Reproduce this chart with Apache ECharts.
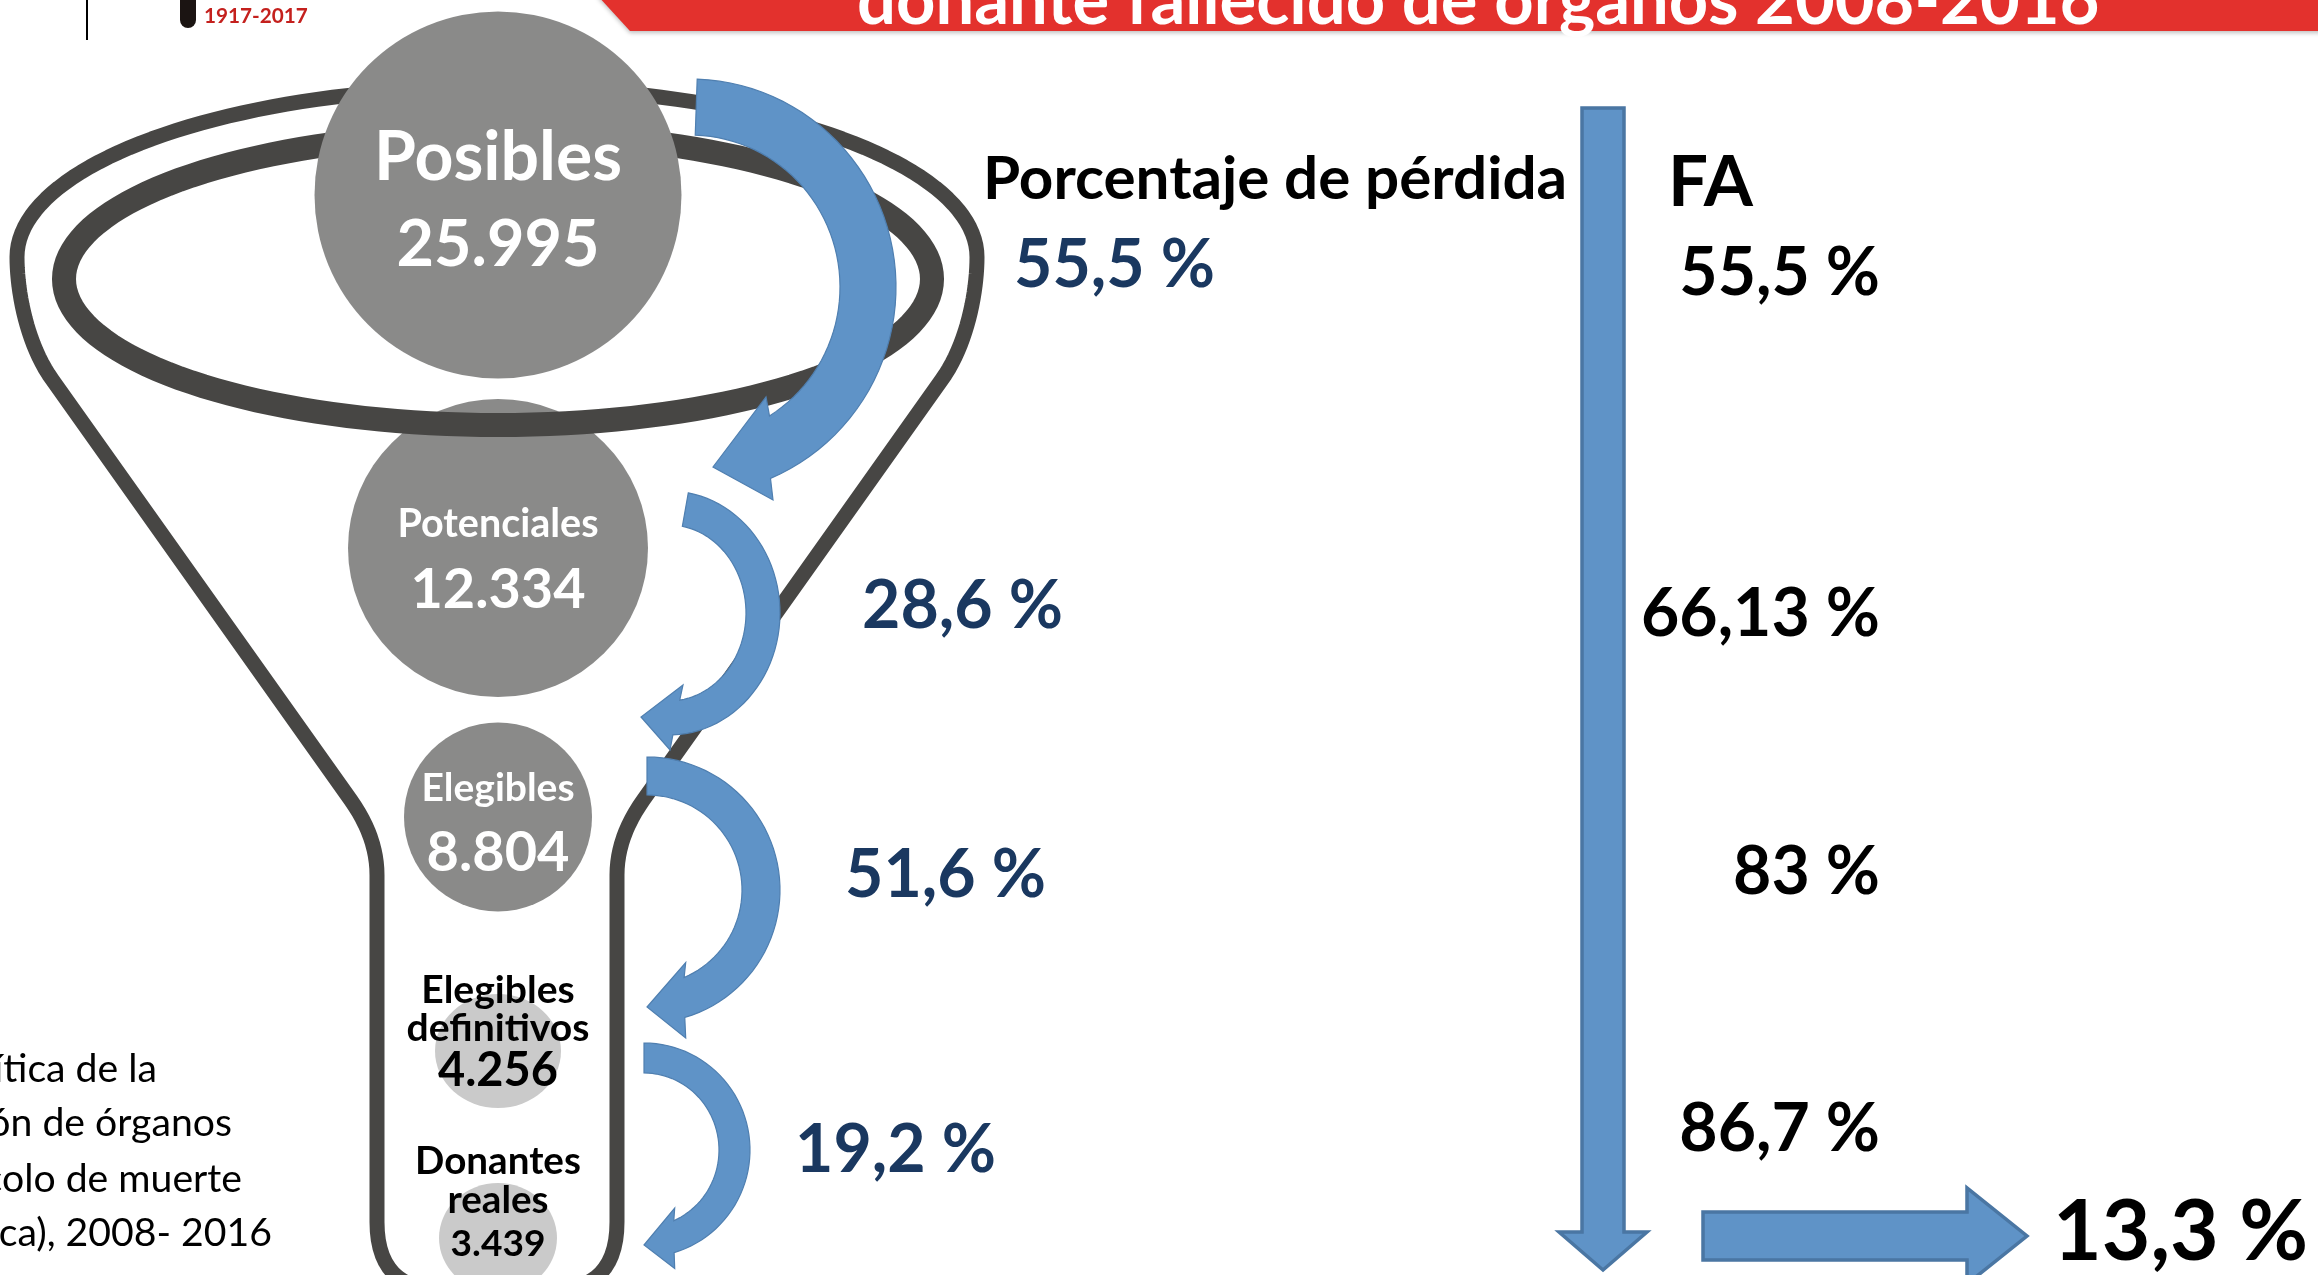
<!DOCTYPE html>
<html>
<head>
<meta charset="utf-8">
<script src="https://cdn.jsdelivr.net/npm/echarts@6/dist/echarts.min.js"></script>
<style>
  html, body { margin: 0; padding: 0; background: #fff; }
  #chart { width: 2318px; height: 1275px; }
</style>
</head>
<body>
<div id="chart"></div>
<script>
/* Cadena de donación: embudo de pérdidas 2008-2016 */

// ---- datos ----
const stageNames = ['Posibles', 'Potenciales', 'Elegibles', 'Elegibles\ndefinitivos', 'Donantes\nreales'];
const stageCounts = [25995, 12334, 8804, 4256, 3439];
const lossPct = [55.5, 28.6, 51.6, 19.2];     // porcentaje de pérdida entre etapas
const faPct = [55.5, 66.13, 83, 86.7];        // FA
const finalPct = 13.3;

// ---- maquetación ----
const W = 2318, H = 1275;
const FONT = 'Lato';
const FX = 498;                                   // eje del embudo
const bubbleY = [195, 548, 817, 1051, 1238];
const bubbleSize = [[367, 367], [300, 298], [188, 189], [126, 114], [118, 110]];
const bubbleColor = ['#8a8a89', '#8a8a89', '#8a8a89', '#cacaca', '#cacaca'];
const stageTextColor = ['#fff', '#fff', '#fff', '#000', '#000'];
const nameY = [[155], [523], [787], [989, 1027], [1160, 1199]];
const nameW = [248, 201, 153, 183, 166];
const countY = [243, 588, 851, 1069, 1243];
const countW = [203, 175, 143, 120, 95];
const lossX = [1014, 862, 845, 795];
const lossY = [263, 604, 873, 1148];
const faRight = 1880;
const faY = [271, 612, 870, 1127];

const cv = document.createElement('canvas').getContext('2d');
function fitSize(text, width, weight) {
  cv.font = (weight || 'bold') + ' 100px ' + FONT;
  return +(100 * width / cv.measureText(text).width).toFixed(1);
}
const fmtInt = n => String(n).replace(/\B(?=(\d{3})+(?!\d))/g, '.');
const fmtPct = v => String(v).replace('.', ',') + ' %';

function textItem(x, y, text, size, color, align) {
  return {
    value: [x, y + 0.04 * size],
    label: {
      show: true, position: 'inside', formatter: text,
      fontSize: size, fontWeight: 'bold', fontFamily: FONT,
      color: color, align: align, verticalAlign: 'middle', opacity: 1
    }
  };
}

// etiquetas de las etapas
const labelItems = [];
stageNames.forEach((name, i) => {
  const lines = name.split('\n');
  const widest = lines.reduce((a, b) => (b.length > a.length ? b : a));
  const fs = fitSize(widest, nameW[i]);
  lines.forEach((ln, j) => labelItems.push(textItem(FX, nameY[i][j], ln, fs, stageTextColor[i], 'center')));
  const num = fmtInt(stageCounts[i]);
  labelItems.push(textItem(FX, countY[i], num, fitSize(num, countW[i]), stageTextColor[i], 'center'));
});

// porcentajes
const pctSize = fitSize(fmtPct(lossPct[0]), 201);
lossPct.forEach((v, i) => labelItems.push(textItem(lossX[i], lossY[i], fmtPct(v), pctSize, '#1a3860', 'left')));
const faSize = fitSize(fmtPct(faPct[1]), 239);
faPct.forEach((v, i) => labelItems.push(textItem(faRight, faY[i], fmtPct(v), faSize, '#000', 'right')));
labelItems.push(textItem(2053, 1230, fmtPct(finalPct), fitSize(fmtPct(finalPct), 255), '#000', 'left'));

// burbujas
const bubbles = stageCounts.map((c, i) => ({
  value: [FX, bubbleY[i], c],
  symbolSize: bubbleSize[i],
  itemStyle: { color: bubbleColor[i], opacity: 1 }
}));

// ---- formas del embudo ----
function quad(p0, p1, p2, n) {
  const out = [];
  for (let i = 0; i <= n; i++) {
    const t = i / n, u = 1 - t;
    out.push([u * u * p0[0] + 2 * u * t * p1[0] + t * t * p2[0], u * u * p0[1] + 2 * u * t * p1[1] + t * t * p2[1]]);
  }
  return out;
}
function cubic(p0, p1, p2, p3, n) {
  const out = [];
  for (let i = 0; i <= n; i++) {
    const t = i / n, u = 1 - t;
    const a = u * u * u, b = 3 * u * u * t, c = 3 * u * t * t, d = t * t * t;
    out.push([a * p0[0] + b * p1[0] + c * p2[0] + d * p3[0], a * p0[1] + b * p1[1] + c * p2[1] + d * p3[1]]);
  }
  return out;
}
function ellipsePts(cx, cy, rx, ry, t0, t1, n) {
  const out = [];
  for (let i = 0; i <= n; i++) {
    const t = (t0 + (t1 - t0) * i / n) * Math.PI / 180;
    out.push([cx + rx * Math.cos(t), cy + ry * Math.sin(t)]);
  }
  return out;
}

const fx = 497;
const hw = y => 125 + 0.71 * (830 - y);   // semiancho de la pared inclinada
const rightSide = [].concat(
  cubic([fx + 480, 257], [fx + 480, 292], [fx + 470, 345], [fx + hw(380), 380], 20),
  quad([fx + hw(800), 800], [fx + 120, 837], [fx + 120, 875], 12),
  quad([fx + 120, 1222], [fx + 120, 1290], [fx + 55, 1290], 14)
);
const leftSide = rightSide.map(p => [2 * fx - p[0], p[1]]).reverse();
const funnelPts = [].concat(ellipsePts(fx, 257, 480, 170, 180, 360, 90), rightSide, leftSide);
const rimPts = ellipsePts(FX, 279, 434, 146, 0, 360, 160);

// flechas curvas
const arrowGeo = [
  { c: [690, 287], ro: [206, 208], ri: [150, 152], a0: -88, ei: 58, eo: 67, bIn: [76, 110], tip: [23, 180], bOut: [83, 213] },
  { c: [669, 613], ro: [111, 122], ri: [77, 88], a0: -80, ei: 82, eo: 88, bIn: [14, 72], tip: [-28, 104], bOut: [1, 137] },
  { c: [647, 890], ro: [133, 133], ri: [95, 95], a0: -90, ei: 67, eo: 73.5, bIn: [38.7, 72.5], tip: [0, 117], bOut: [38.7, 148] },
  { c: [644, 1150], ro: [106, 107], ri: [75, 77], a0: -90, ei: 66.6, eo: 73.5, bIn: [30.7, 58], tip: [0, 95], bOut: [30.7, 118.6] }
];
function curvedArrow(g) {
  const [cx, cy] = g.c;
  const outer = ellipsePts(cx, cy, g.ro[0], g.ro[1], g.a0, g.eo, 50);
  const inner = ellipsePts(cx, cy, g.ri[0], g.ri[1], g.a0, g.ei, 50).reverse();
  const rel = p => [cx + p[0], cy + p[1]];
  return outer.concat([rel(g.bOut), rel(g.tip), rel(g.bIn)], inner);
}

const BLUE = '#5f93c7';
const graphics = [];
graphics.push({ type: 'polygon', z: 2, shape: { points: funnelPts }, style: { fill: 'none', stroke: '#474644', lineWidth: 15, lineJoin: 'round' }, silent: true });
graphics.push({ type: 'polygon', z: 2, shape: { points: rimPts }, style: { fill: 'none', stroke: '#474644', lineWidth: 24 }, silent: true });
arrowGeo.forEach(g => graphics.push({
  type: 'polygon', z: 4, shape: { points: curvedArrow(g) },
  style: { fill: BLUE, stroke: '#4f7fb0', lineWidth: 1.2 }, silent: true
}));
// flecha vertical y flecha final
graphics.push({
  type: 'polygon', z: 4,
  shape: { points: [[1582, 108], [1624, 108], [1624, 1232], [1647, 1232], [1603, 1270], [1559, 1232], [1582, 1232]] },
  style: { fill: BLUE, stroke: '#4a76a3', lineWidth: 3.5 }, silent: true
});
graphics.push({
  type: 'polygon', z: 4,
  shape: { points: [[1703, 1212], [1967, 1212], [1967, 1188], [2027, 1236], [1967, 1284], [1967, 1260], [1703, 1260]] },
  style: { fill: BLUE, stroke: '#4a76a3', lineWidth: 3.5 }, silent: true
});

// cabecera
const titleText = 'donante fallecido de órganos 2008-2016';
const titleSize = fitSize(titleText, 1242);
graphics.push({
  type: 'polygon', z: 5, shape: { points: [[597, -5], [W + 5, -5], [W + 5, 31], [630, 31]] },
  style: { fill: '#e3312d', shadowColor: 'rgba(0,0,0,0.25)', shadowBlur: 4, shadowOffsetY: 2 }, silent: true
});
graphics.push({
  type: 'text', z: 6, x: 857, y: 28 - 0.387 * titleSize,
  style: { text: titleText, fontSize: titleSize, fontWeight: 'bold', fontFamily: FONT, fill: '#fff', align: 'left', verticalAlign: 'middle' }
});
graphics.push({ type: 'line', z: 6, shape: { x1: 87, y1: 0, x2: 87, y2: 40 }, style: { stroke: '#000', lineWidth: 2 } });
graphics.push({ type: 'rect', z: 6, shape: { x: 180, y: -20, width: 16, height: 48, r: [0, 0, 8, 8] }, style: { fill: '#1b1412' } });
const logoSize = fitSize('1917-2017', 104);
graphics.push({
  type: 'text', z: 6, x: 204, y: 15 + 0.04 * logoSize,
  style: { text: '1917-2017', fontSize: logoSize, fontWeight: 'bold', fontFamily: FONT, fill: '#c4201d', align: 'left', verticalAlign: 'middle' }
});

// encabezados de columnas
const headSize = fitSize('Porcentaje de pérdida', 584);
graphics.push({
  type: 'text', z: 6, x: 983, y: 177 + 0.04 * headSize,
  style: { text: 'Porcentaje de pérdida', fontSize: headSize, fontWeight: 'bold', fontFamily: FONT, fill: '#000', align: 'left', verticalAlign: 'middle' }
});
const faHeadSize = fitSize('FA', 85);
graphics.push({
  type: 'text', z: 6, x: 1668, y: 180 + 0.04 * faHeadSize,
  style: { text: 'FA', fontSize: faHeadSize, fontWeight: 'bold', fontFamily: FONT, fill: '#000', align: 'left', verticalAlign: 'middle' }
});

// nota al pie (cortada por el borde izquierdo)
const noteLines = ['crítica de la', 'donación de órganos', '(protocolo de muerte', 'encefálica), 2008- 2016'];
const noteRight = [157, 232, 242, 272];
const noteBase = [1085, 1139, 1195, 1249];
const noteSize = fitSize('olo de muerte', 240, 'normal');
noteLines.forEach((t, i) => graphics.push({
  type: 'text', z: 6, x: noteRight[i], y: noteBase[i] - 0.387 * noteSize,
  style: { text: t, fontSize: noteSize, fontFamily: FONT, fill: '#000', align: 'right', verticalAlign: 'middle' }
}));

const chart = echarts.init(document.getElementById('chart'), null, { renderer: 'canvas' });
chart.setOption({
  animation: false,
  backgroundColor: '#fff',
  grid: { left: 0, right: 0, top: 0, bottom: 0 },
  xAxis: { type: 'value', min: 0, max: W, show: false },
  yAxis: { type: 'value', min: 0, max: H, inverse: true, show: false },
  graphic: { elements: graphics },
  series: [
    {
      name: 'etapas', type: 'scatter', z: 1, silent: true, clip: false,
      itemStyle: { opacity: 1 },
      data: bubbles.slice(1), emphasis: { disabled: true }
    },
    {
      name: 'posibles', type: 'scatter', z: 3, silent: true, clip: false,
      itemStyle: { opacity: 1 },
      data: bubbles.slice(0, 1), emphasis: { disabled: true }
    },
    {
      name: 'etiquetas', type: 'scatter', z: 6, silent: true, clip: false,
      symbolSize: 0, itemStyle: { color: 'rgba(0,0,0,0)', opacity: 1 },
      data: labelItems, emphasis: { disabled: true }
    }
  ]
});
window.addEventListener('resize', () => chart.resize());
</script>
</body>
</html>
